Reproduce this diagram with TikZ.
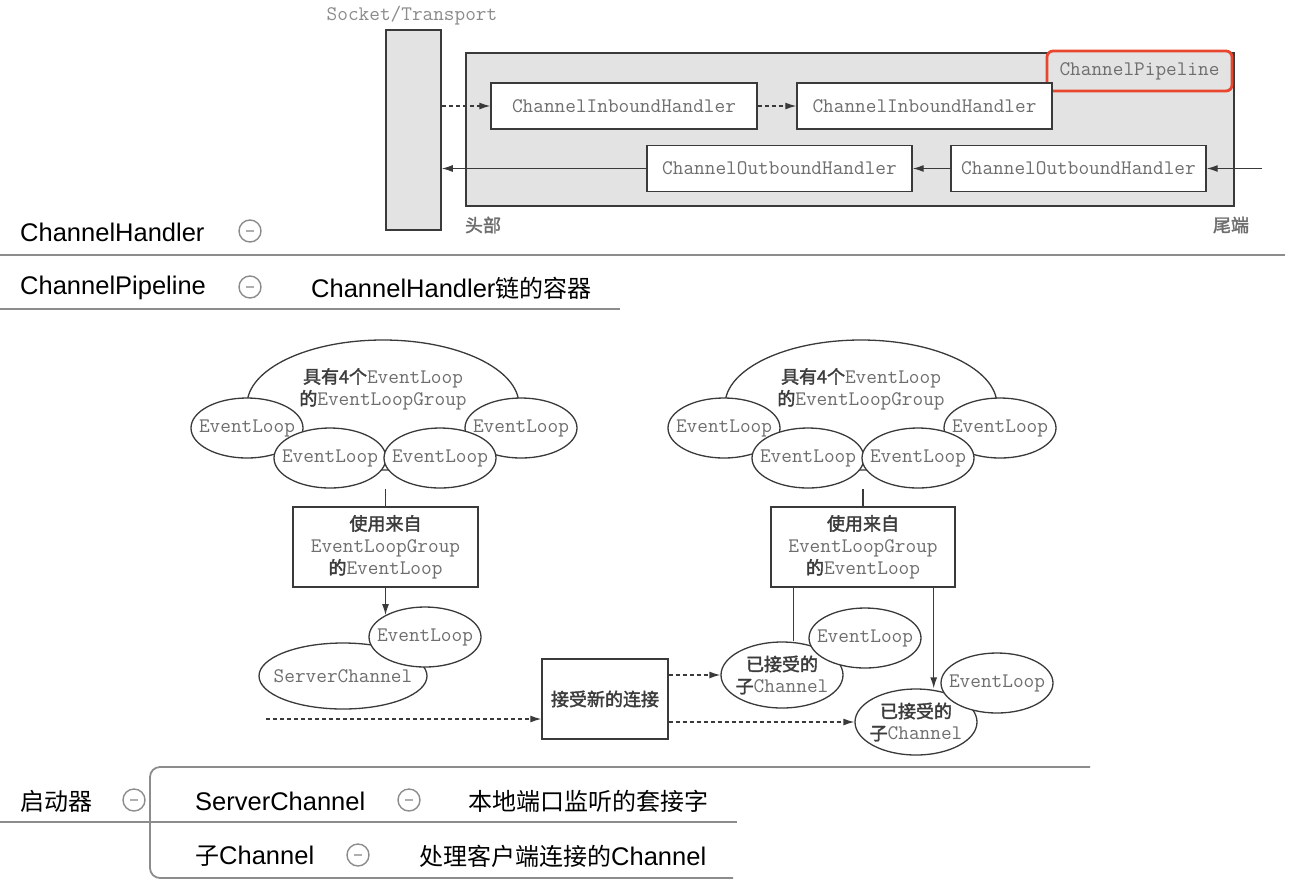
\documentclass[tikz,border=0pt]{standalone}
\usepackage{fontspec}
\setmainfont{Liberation Sans}
\newfontfamily\zhfont{Noto Sans CJK SC}
\newfontfamily\zhbfont{Noto Sans CJK SC}[FakeBold=2]
\usetikzlibrary{shapes.geometric,arrows.meta}

\definecolor{bookgray}{HTML}{E3E3E3}
\definecolor{bookline}{HTML}{3A3A3A}
\definecolor{booktext}{HTML}{6E6E6E}
\definecolor{bookzh}{HTML}{3C3C3C}
\definecolor{mapline}{HTML}{8C8C8C}
\definecolor{pipered}{HTML}{E8462E}

\newcommand\zh[1]{{\zhbfont\fontsize{18}{22}\selectfont\color{bookzh}#1}}
\newcommand\mz[1]{{\zhfont\fontsize{24}{28}\selectfont #1}}

\tikzset{
  booklbl/.style={font=\ttfamily\fontsize{20.7}{22}\selectfont, text=booktext, align=center, inner sep=0pt},
  pipebox/.style={draw=bookline, fill=bookgray, line width=1.5pt, inner sep=0pt},
  handler/.style={booklbl, draw=bookline, fill=white, line width=1.4pt, minimum height=46pt},
  loop/.style={ellipse, draw=bookline, fill=white, line width=1.3pt, inner sep=0pt},
  evloop/.style={loop, minimum width=112pt, minimum height=60pt, label={[booklbl]center:EventLoop}},
  child/.style={loop, minimum width=122pt, minimum height=66pt, label={[booklbl]center:{\zh{已接受的}\\\zh{子}Channel}}},
  group/.style={loop, minimum width=272pt, minimum height=130pt, label={[booklbl, yshift=16pt]center:{\zh{具有4个}EventLoop\\\zh{的}EventLoopGroup}}},
  srcbox/.style={booklbl, draw=bookline, fill=white, line width=1.4pt, minimum width=185pt, minimum height=80pt},
  solarrow/.style={draw=bookline, line width=1.3pt, -{Latex[length=11pt,width=7pt]}},
  dasharrow/.style={solarrow, dash pattern=on 4pt off 3pt},
  maptext/.style={anchor=west, inner sep=0pt, font=\fontsize{25.5}{30}\selectfont},
  mapline/.style={draw=mapline, line width=1.8pt},
  fold/.style={circle, draw=mapline, line width=1.4pt, fill=white, minimum size=22pt, inner sep=0pt,
    path picture={\draw[mapline!70, line width=1.4pt] ([xshift=-4pt]path picture bounding box.center) -- ([xshift=4pt]path picture bounding box.center);}}
}

\begin{document}
\begin{tikzpicture}[x=1pt, y=-1pt]
  \useasboundingbox (0,0) rectangle (1300,892);

  % pipeline
  \node[pipebox, minimum width=768pt, minimum height=153pt] (pipe) at (850,129.5) {};
  \node[pipebox, minimum width=55pt, minimum height=200pt] (sock) at (413.5,130) {};
  \node[booklbl, text=booktext!80] (socktxt) at (412,16) {Socket/Transport};
  \node[booklbl, draw=pipered, line width=2.8pt, rounded corners=6pt, fill=bookgray,
        minimum width=185pt, minimum height=40pt] (pipetxt) at (1139.5,71) {ChannelPipeline};

  \node[handler, minimum width=266pt] (in1) at (624,106) {ChannelInboundHandler};
  \node[handler, minimum width=255pt] (in2) at (924.5,106) {ChannelInboundHandler};
  \node[handler, minimum width=265pt] (out1) at (779.5,168.5) {ChannelOutboundHandler};
  \node[handler, minimum width=255pt] (out2) at (1078.5,168.5) {ChannelOutboundHandler};
  \coordinate (tail) at (1262,168.5);

  \draw[dasharrow] (sock.east |- in1.west) -- (in1.west);
  \draw[dasharrow] (in1.east) -- (in2.west);
  \draw[solarrow] (tail) -- (out2.east);
  \draw[solarrow] (out2.west) -- (out1.east);
  \draw[solarrow] (out1.west) -- (sock.east |- out1.west);

  \node[booklbl] (head) at (483,225) {{\zhbfont\fontsize{18}{22}\selectfont\color{booktext}头部}};
  \node[booklbl] (end) at (1231,225) {{\zhbfont\fontsize{18}{22}\selectfont\color{booktext}尾端}};

  % mind map, top
  \node[maptext] (mhand) at (20,232) {ChannelHandler};
  \node[fold] (fhand) at (250,231) {};
  \draw[mapline] (0,255) -- (1285,255);
  \node[maptext] (mpipe) at (20,288) {ChannelPipeline};
  \node[fold] (fpipe) at (250,287) {};
  \node[maptext] (dpipe) at (311,288) {ChannelHandler\mz{链的容器}};
  \draw[mapline] (0,309) -- (620,309);

  % server side
  \node[group] (grp1) at (383,405) {};
  \node[evloop] (el1a) at (247,428) {};
  \node[evloop] (el1b) at (521,428) {};
  \node[evloop] (el1c) at (330,458) {};
  \node[evloop] (el1d) at (440,458) {};
  \node[srcbox] (src1) at (385.5,547) {\zh{使用来自}\\EventLoopGroup\\\zh{的}EventLoop};
  \node[loop, minimum width=168pt, minimum height=66pt, label={[booklbl]center:ServerChannel}] (srv) at (343,676) {};
  \node[evloop] (loop1) at (425,637) {};
  \draw[bookline, line width=1.3pt] (src1.north) -- (src1.north |- el1c.south);
  \draw[solarrow] (src1.south) -- (src1.south |- loop1.151);

  \node[srcbox, minimum width=126pt] (acc) at (605,699) {\zh{接受新的连接}};
  \coordinate (srvin) at (266,719);
  \draw[dasharrow] (srvin) -- (srvin -| acc.west);

  % child side
  \node[group] (grp2) at (861,405) {};
  \node[evloop] (el2a) at (724,428) {};
  \node[evloop] (el2b) at (1000,428) {};
  \node[evloop] (el2c) at (808,458) {};
  \node[evloop] (el2d) at (918,458) {};
  \node[srcbox, minimum width=184pt] (src2) at (863,547) {\zh{使用来自}\\EventLoopGroup\\\zh{的}EventLoop};
  \node[child] (ch1) at (782,675) {};
  \node[evloop] (loop2) at (865,638) {};
  \node[child] (ch2) at (916,722) {};
  \node[evloop] (loop3) at (997,683) {};
  \draw[bookline, line width=1.3pt] (src2.north) -- (src2.north |- el2c.south);
  \draw[bookline, line width=1.3pt] ([xshift=23pt]src2.south west) -- ([xshift=23pt]src2.south west |- ch1.north);
  \draw[solarrow] ([xshift=-22pt]src2.south east) -- ([xshift=-22pt]src2.south east |- ch2.north);
  \draw[dasharrow] (acc.east |- ch1.west) -- (ch1.west);
  \draw[dasharrow] (acc.east |- ch2.west) -- (ch2.west);

  % mind map, bottom
  \node[maptext] (boot) at (20,801) {\mz{启动器}};
  \node[fold] (fboot) at (134,800) {};
  \draw[mapline, rounded corners=10pt] (1090,767) -- (150,767) -- (150,878) -- (733,878);
  \draw[mapline] (0,822) -- (737,822);
  \node[maptext] (mserv) at (195,801) {ServerChannel};
  \node[fold] (fserv) at (409,800) {};
  \node[maptext] (dserv) at (468,801) {\mz{本地端口监听的套接字}};
  \node[maptext] (mchild) at (195,856) {\mz{子}Channel};
  \node[fold] (fchild) at (358,855) {};
  \node[maptext] (dchild) at (419,856) {\mz{处理客户端连接的}Channel};
\end{tikzpicture}
\end{document}
